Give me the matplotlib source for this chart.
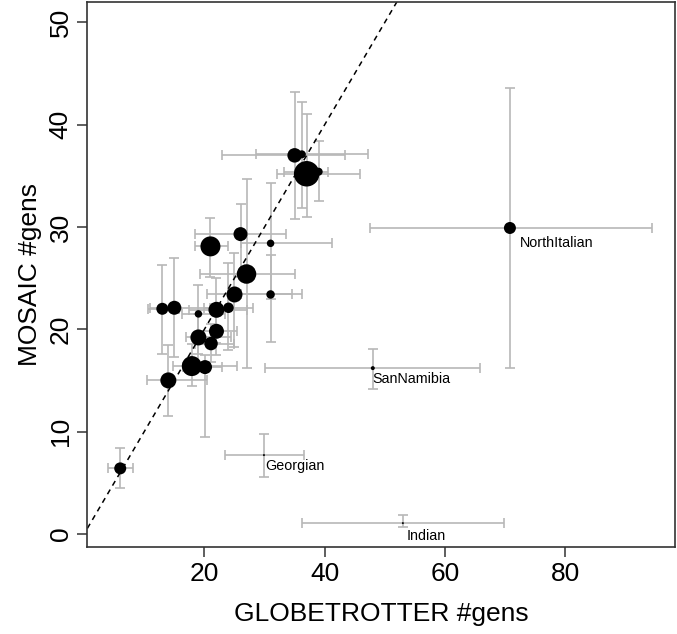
import numpy as np
import matplotlib.pyplot as plt

plt.rcParams['font.family'] = ['Liberation Sans', 'DejaVu Sans']

# GLOBETROTTER estimates (x) with intervals
glob = [6.0, 14.0, 17.9, 20.1, 19.0, 21.1, 22.0, 19.0, 13.0, 15.0, 22.0, 24.0,
        25.0, 31.0, 27.0, 21.0, 26.0, 31.0, 35.0, 36.2, 37.0, 39.0,
        70.8, 48.0, 29.9, 53.0]
glob_lo = [4.0, 10.4, 14.7, 16.5, 17.0, 18.5, 19.0, 16.2, 10.7, 11.0, 17.5, 20.0,
           20.4, 26.0, 19.3, 18.4, 18.4, 26.0, 22.9, 28.6, 32.0, 33.2,
           47.5, 30.0, 23.4, 36.2]
glob_hi = [8.1, 20.5, 25.4, 23.0, 24.4, 25.0, 25.5, 23.5, 15.8, 21.0, 27.0, 28.0,
           34.6, 36.2, 35.0, 24.0, 33.6, 41.2, 43.4, 47.2, 45.9, 40.6,
           94.4, 65.8, 36.6, 69.8]

# MOSAIC estimates (y) with intervals
mosaic = [6.4, 15.0, 16.4, 16.3, 19.2, 18.6, 19.8, 21.5, 22.0, 22.1, 21.9, 22.1,
          23.4, 23.4, 25.4, 28.1, 29.3, 28.4, 37.0, 37.1, 35.2, 35.4,
          29.9, 16.2, 7.7, 1.05]
mosaic_lo = [4.5, 11.5, 14.5, 9.5, 16.5, 16.8, 17.5, 17.6, 17.6, 17.3, 18.7, 18.0,
             18.3, 18.8, 16.2, 25.1, 25.1, 23.0, 30.8, 31.9, 31.0, 32.5,
             16.2, 14.2, 5.6, 0.68]
mosaic_hi = [8.4, 18.5, 18.6, 17.5, 21.5, 20.5, 22.5, 24.3, 26.3, 27.0, 25.0, 26.5,
             27.5, 27.3, 34.7, 30.9, 32.2, 34.3, 43.2, 42.2, 41.0, 38.4,
             43.6, 18.1, 9.8, 1.83]

# point weight (cex-like)
weight = [1.2, 1.6, 2.0, 1.4, 1.6, 1.35, 1.5, 0.75, 1.2, 1.4, 1.6, 1.05,
          1.6, 0.85, 1.95, 2.0, 1.4, 0.75, 1.45, 0.8, 2.55, 0.8,
          1.2, 0.4, 0.2, 0.2]

labels = {22: 'NorthItalian', 23: 'SanNamibia', 24: 'Georgian', 25: 'Indian'}
label_off = {22: (7, -6), 23: (0, -3), 24: (1, -3), 25: (3, -4)}


def main():
    fig = plt.figure(figsize=(6.77, 6.34), dpi=100)
    ax = fig.add_axes([0.129, 0.137, 0.8676, 0.86])

    x = np.asarray(glob)
    y = np.asarray(mosaic)
    xerr = [x - np.asarray(glob_lo), np.asarray(glob_hi) - x]
    yerr = [y - np.asarray(mosaic_lo), np.asarray(mosaic_hi) - y]
    ax.errorbar(x, y, xerr=xerr, yerr=yerr, fmt='none', ecolor='#b8b8b8',
                elinewidth=1.2, capsize=3.6, capthick=1.2, zorder=1)

    ax.axline((0, 0), slope=1, color='black', ls=(0, (3.5, 3)), lw=1.1, zorder=2)

    s = (np.asarray(weight) * 5 * 2 * 0.72) ** 2
    ax.scatter(x, y, s=s, c='black', edgecolors='none', zorder=3)

    for i, name in labels.items():
        ax.annotate(name, (x[i], y[i]), xytext=label_off[i],
                    textcoords='offset points', ha='left', va='top',
                    fontsize=10.3)

    ax.set_xlim(0.53, 98.2)
    ax.set_ylim(-1.3, 52.0)
    ax.set_xticks([20, 40, 60, 80])
    ax.set_yticks([0, 10, 20, 30, 40, 50])
    ax.tick_params(labelsize=19, length=7.5, width=1.1, color='#333333', pad=3)
    for lab in ax.get_yticklabels():
        lab.set_rotation(90)
        lab.set_va('center')
    for sp in ax.spines.values():
        sp.set_linewidth(1.2)
        sp.set_color('#333333')

    ax.set_xlabel('GLOBETROTTER #gens', fontsize=19, labelpad=12)
    ax.set_ylabel('MOSAIC #gens', fontsize=19, labelpad=5)

    fig.savefig('out.png', dpi=100)


if __name__ == '__main__':
    main()
